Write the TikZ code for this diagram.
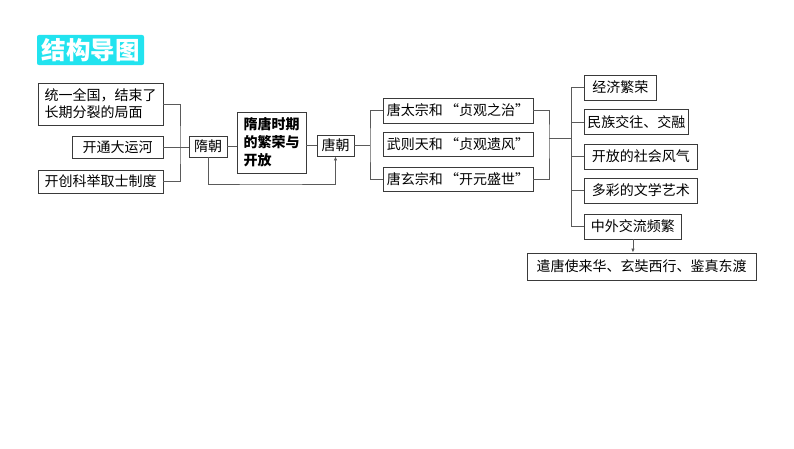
\documentclass[tikz,border=0pt]{standalone}
\usepackage{fontspec}
\newfontfamily\cjk{Noto Sans CJK SC}
\usetikzlibrary{arrows.meta}
\definecolor{titlecyan}{HTML}{22E3EF}
\definecolor{frame}{HTML}{3A3A3A}
\definecolor{wire}{HTML}{5A5A5A}

\begin{document}
\begin{tikzpicture}[x=1pt,y=-1pt,>={Latex[length=4pt,width=3.5pt]},
  box/.style={draw=frame,line width=.9pt,inner sep=0pt,font=\cjk\fontsize{14}{17}\selectfont},
  link/.style={draw=wire,line width=.9pt}]
  \useasboundingbox (0,0) rectangle (794,448);
  \node[fill=titlecyan,rounded corners=2pt,minimum width=107pt,minimum height=30pt,text=white,
    font=\cjk\bfseries\fontsize{24.5}{24.5}\selectfont] (title) at (90.5,50) {结构导图};
  \node[box,minimum width=125pt,minimum height=42pt,align=left] (unify) at (100.5,104) {统一全国，结束了\\长期分裂的局面};
  \node[box,minimum width=91pt,minimum height=22pt] (canal) at (117.5,147) {开通大运河};
  \node[box,minimum width=125pt,minimum height=23pt] (exam) at (100.5,181.5) {开创科举取士制度};
  \node[box,minimum width=38pt,minimum height=21pt] (sui) at (208,146.5) {隋朝};
  \node[box,minimum width=69pt,minimum height=61pt,align=left,
    font=\cjk\bfseries\fontsize{14}{18}\selectfont] (theme) at (271.5,142.5) {隋唐时期\\的繁荣与\\开放};
  \node[box,minimum width=37pt,minimum height=21pt] (tang) at (335.5,145.5) {唐朝};
  \node[box,minimum width=150pt,minimum height=25pt] (emp1) at (458,110.5) {唐太宗和\kern.15em“贞观之治”};
  \node[box,minimum width=150pt,minimum height=24pt] (emp2) at (458,144) {武则天和\kern.15em“贞观遗风”};
  \node[box,minimum width=150pt,minimum height=24pt] (emp3) at (458,179) {唐玄宗和\kern.15em“开元盛世”};
  \foreach \k/\y/\w/\t in {1/87.5/72/经济繁荣,2/122/104/民族交往、交融,3/156.5/113/开放的社会风气,
      4/190.5/113/多彩的文学艺术,5/226.5/97/中外交流频繁}
    \node[box,anchor=west,minimum width=\w pt,minimum height=25pt] (trait\k) at (584,\y) {\t};
  \node[box,minimum width=229pt,minimum height=27pt] (envoy) at (641.5,266.5) {遣唐使来华、玄奘西行、鉴真东渡};

  \coordinate (spineL) at (180,147);
  \coordinate (bypass) at (270,184);
  \coordinate (spineM) at (370,145.5);
  \coordinate (spineE) at (549,138);
  \coordinate (spineR) at (571,138);
  \draw[link] (unify.east) -| (spineL) |- (exam.east);
  \draw[link] (canal.east) -- (canal.east -| sui.west);
  \draw[link] (sui.east) -- (sui.east -| theme.west);
  \draw[link] (tang.west -| theme.east) -- (tang.west);
  \draw[link,->] (sui.south) |- (bypass) -| (tang.south);
  \draw[link] (tang.east) -- (spineM);
  \draw[link] (emp1.west) -| (spineM) |- (emp3.west);
  \draw[link] (emp1.east) -| (spineE) |- (emp3.east);
  \draw[link] (spineE) -- (spineR);
  \draw[link] (trait1.west -| spineR) -- (trait5.west -| spineR);
  \foreach \k in {1,...,5} \draw[link] (trait\k.west) -- (trait\k.west -| spineR);
  \draw[link,->] (trait5.south) -- (trait5.south |- envoy.north);
\end{tikzpicture}
\end{document}
